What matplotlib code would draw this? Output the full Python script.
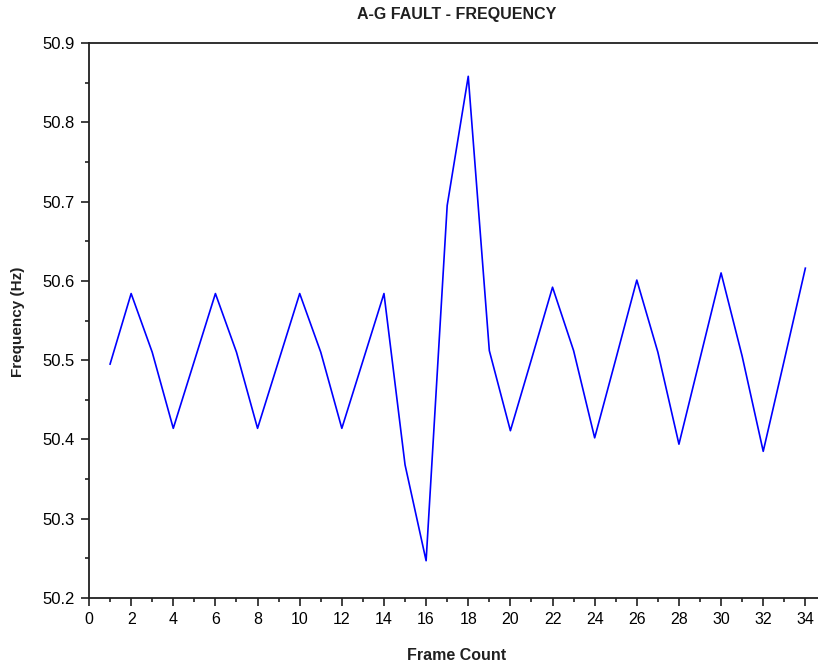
import matplotlib
matplotlib.use("Agg")
import matplotlib.pyplot as plt
from matplotlib.ticker import MultipleLocator

frames = list(range(1, 35))
freq = [50.495, 50.584, 50.510, 50.414, 50.499, 50.584, 50.510, 50.414,
        50.499, 50.584, 50.510, 50.414, 50.499, 50.584, 50.368, 50.247,
        50.695, 50.858, 50.512, 50.411, 50.501, 50.592, 50.512, 50.402,
        50.501, 50.601, 50.510, 50.394, 50.502, 50.610, 50.505, 50.385,
        50.500, 50.616]

title = "A-G FAULT - FREQUENCY"
xlabel = "Frame Count"
ylabel = "Frequency (Hz)"

plt.rcParams['font.family'] = ['Liberation Sans', 'DejaVu Sans']

fig = plt.figure(figsize=(8.18, 6.68), dpi=100)
ax = fig.add_axes([89/818, 1-598/668, 1-89/818, (598-43)/668])
ax.plot(frames, freq, color='#0000ff', linewidth=1.2)

ax.set_xlim(0, 34.6)
ax.set_ylim(50.2, 50.9)
ax.xaxis.set_minor_locator(MultipleLocator(1))
ax.yaxis.set_minor_locator(MultipleLocator(0.05))
ax.set_xticks(range(0, 35, 2))
ax.set_xticklabels([str(v) for v in range(0, 35, 2)])
ax.set_yticks([50.2 + 0.1*i for i in range(8)])
ax.set_yticklabels([f"{50.2 + 0.1*i:.1f}" for i in range(8)])

ax.tick_params(axis='x', which='major', direction='out', length=6, width=1.2,
               labelsize=11.5, pad=4, color='#202020')
ax.tick_params(axis='y', which='major', direction='out', length=6, width=1.2,
               labelsize=12, pad=4, color='#202020')
ax.tick_params(axis='both', which='minor', direction='out', length=3, width=1.2,
               color='#202020')
ax.spines['right'].set_visible(False)
for s in ['left', 'bottom', 'top']:
    ax.spines[s].set_linewidth(1.3)
    ax.spines[s].set_color('#202020')

fig.text(457/818, 1-15/668, title, ha='center', va='center', fontsize=11.5,
         fontweight='bold', color='#202020')
fig.text(457/818, 1-655/668, xlabel, ha='center', va='center', fontsize=11.5,
         fontweight='bold', color='#202020')
fig.text(18/818, 1-322/668, ylabel, ha='center', va='center', fontsize=11,
         fontweight='bold', rotation=90, color='#202020')

fig.savefig("out.png", dpi=100)
